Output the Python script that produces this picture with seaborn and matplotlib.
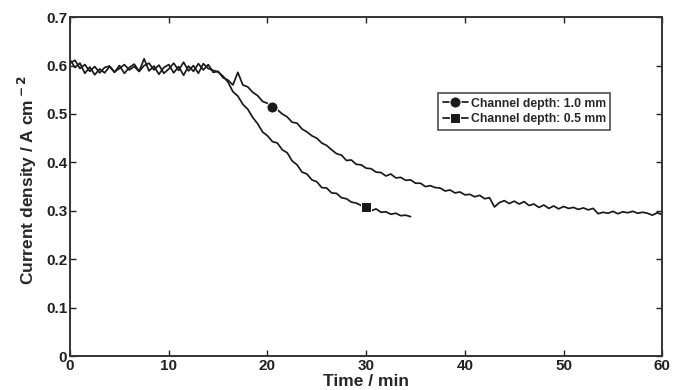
import numpy as np
import pandas as pd
import matplotlib
matplotlib.use("Agg")
import matplotlib.pyplot as plt
import seaborn as sns

# sampled every 0.5 min
step_min = 0.5

depth_10mm = [
    0.612, 0.596, 0.605, 0.584, 0.597, 0.581, 0.593, 0.585, 0.598, 0.586,
    0.600, 0.584, 0.596, 0.603, 0.588, 0.614, 0.589, 0.599, 0.582, 0.596,
    0.602, 0.585, 0.598, 0.580, 0.599, 0.588, 0.604, 0.591, 0.602, 0.586,
    0.588, 0.575, 0.570, 0.560, 0.586, 0.560, 0.556, 0.545, 0.538, 0.526,
    0.522, 0.515, 0.509, 0.500, 0.494, 0.483, 0.481, 0.469, 0.463, 0.455,
    0.450, 0.440, 0.435, 0.426, 0.418, 0.415, 0.404, 0.405, 0.396, 0.395,
    0.388, 0.387, 0.380, 0.379, 0.372, 0.376, 0.368, 0.369, 0.363, 0.364,
    0.357, 0.357, 0.350, 0.352, 0.348, 0.347, 0.341, 0.343, 0.337, 0.339,
    0.333, 0.334, 0.329, 0.332, 0.325, 0.327, 0.308, 0.317, 0.321, 0.315,
    0.320, 0.314, 0.319, 0.311, 0.314, 0.307, 0.312, 0.305, 0.310, 0.304,
    0.309, 0.305, 0.307, 0.303, 0.306, 0.302, 0.305, 0.294, 0.297, 0.295,
    0.299, 0.294, 0.298, 0.296, 0.299, 0.295, 0.297, 0.295, 0.291, 0.296,
    0.292,
]

depth_05mm = [
    0.605, 0.611, 0.594, 0.602, 0.588, 0.598, 0.585, 0.596, 0.599, 0.587,
    0.594, 0.602, 0.591, 0.598, 0.588, 0.600, 0.605, 0.591, 0.601, 0.584,
    0.593, 0.605, 0.590, 0.607, 0.589, 0.600, 0.584, 0.604, 0.594, 0.590,
    0.587, 0.578, 0.566, 0.546, 0.537, 0.520, 0.510, 0.493, 0.480, 0.463,
    0.455, 0.443, 0.440, 0.426, 0.420, 0.403, 0.395, 0.380, 0.376, 0.364,
    0.360, 0.348, 0.347, 0.337, 0.336, 0.327, 0.325, 0.318, 0.316, 0.311,
    0.308, 0.300, 0.304, 0.297, 0.298, 0.293, 0.295, 0.290, 0.291, 0.288,
]

# index of the single marker drawn on each curve
marker_idx_10mm = 41
marker_idx_05mm = 60

labels = ["Channel depth: 1.0 mm", "Channel depth: 0.5 mm"]
x_ticks = [0, 10, 20, 30, 40, 50, 60]
y_ticks = [0, 0.1, 0.2, 0.3, 0.4, 0.5, 0.6, 0.7]
y_tick_labels = ["0", "0.1", "0.2", "0.3", "0.4", "0.5", "0.6", "0.7"]

df10 = pd.DataFrame({"time": np.arange(len(depth_10mm)) * step_min, "j": depth_10mm})
df05 = pd.DataFrame({"time": np.arange(len(depth_05mm)) * step_min, "j": depth_05mm})

sns.set_style("ticks")
plt.rcParams["font.family"] = ["Liberation Sans", "DejaVu Sans"]
plt.rcParams["font.weight"] = "bold"

fig = plt.figure(figsize=(6.87, 3.90), dpi=100)
ax = fig.add_axes([0.102, 0.087, 0.862, 0.869])

sns.lineplot(data=df10, x="time", y="j", ax=ax, color="#1a1a1a", lw=1.25,
             marker="o", markersize=8, markevery=[marker_idx_10mm], label=labels[0])
sns.lineplot(data=df05, x="time", y="j", ax=ax, color="#1a1a1a", lw=1.25,
             marker="s", markersize=6.5, markevery=[marker_idx_05mm], label=labels[1])

ax.set_xlim(0, 60)
ax.set_ylim(0, 0.7)
ax.set_xticks(x_ticks)
ax.set_yticks(y_ticks)
ax.set_yticklabels(y_tick_labels)
ax.tick_params(direction="in", length=4, width=1, top=True, right=True,
               labelsize=11, colors="#222222", pad=2)
for lab in ax.get_xticklabels() + ax.get_yticklabels():
    lab.set_fontweight("bold")
for sp in ax.spines.values():
    sp.set_visible(True)
    sp.set_linewidth(1.4)
    sp.set_color("#333333")

ax.set_xlabel("Time / min", fontsize=12.5, fontweight="bold", labelpad=1)
ax.set_ylabel("Current density / A cm$^{\\bf -2}$", fontsize=12.5, fontweight="bold")
ax.yaxis.set_label_coords(-0.052, 0.52)

leg = ax.legend(loc="upper right", bbox_to_anchor=(0.912, 0.775), fontsize=8.8,
                frameon=True, fancybox=False, handlelength=2.1, handletextpad=0.2,
                borderpad=0.35, labelspacing=0.3, borderaxespad=0)
leg.get_frame().set_edgecolor("#222222")
leg.get_frame().set_linewidth(1.2)
for t in leg.get_texts():
    t.set_fontweight("bold")

fig.savefig("out.png", dpi=100)
